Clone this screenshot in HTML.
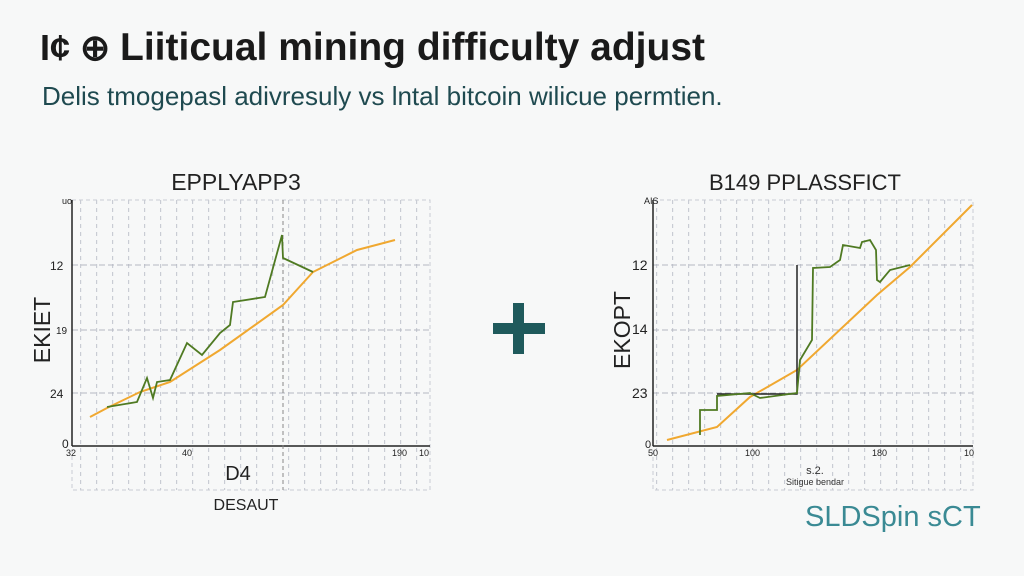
<!DOCTYPE html>
<html><head><meta charset="utf-8"><style>
body{margin:0;width:1024px;height:576px;background:#f7f8f8;overflow:hidden;font-family:"Liberation Sans",sans-serif;}
svg{position:absolute;left:0;top:0}
</style></head><body>
<svg width="1024" height="576" xmlns="http://www.w3.org/2000/svg" font-family="Liberation Sans, sans-serif">
<defs>
<pattern id="g" width="16" height="8" patternUnits="userSpaceOnUse">
<rect x="0" y="0" width="1.2" height="4" fill="#c9ccd4"/>
</pattern>
</defs>
<text x="40" y="60" font-size="36" font-weight="bold" fill="#1a1a1a">I¢ ⊕</text>
<text x="120" y="60" font-size="39" font-weight="bold" fill="#1a1a1a">Liiticual mining difficulty adjust</text>
<text x="42" y="105" font-size="26" fill="#1f4a50">Delis tmogepasl adivresuly vs lntal bitcoin wilicue permtien.</text>

<!-- left chart -->
<text x="236" y="190" font-size="23" text-anchor="middle" fill="#222">EPPLYAPP3</text>
<rect x="72" y="200" width="358" height="290" fill="url(#g)"/>
<rect x="72" y="200" width="358" height="290" fill="none" stroke="#c9ccd4" stroke-dasharray="4 3"/>
<g stroke="#b5b8c2" stroke-dasharray="6 3"><line x1="72" y1="265" x2="430" y2="265"/><line x1="72" y1="330" x2="430" y2="330"/><line x1="72" y1="393" x2="430" y2="393"/></g>
<line x1="72" y1="200" x2="72" y2="446" stroke="#222" stroke-width="1.5"/>
<line x1="72" y1="446" x2="430" y2="446" stroke="#222" stroke-width="1.5"/>
<line x1="283" y1="200" x2="283" y2="490" stroke="#888" stroke-width="1" stroke-dasharray="4 3"/>
<g font-size="12" fill="#222"><text x="62" y="204" font-size="9">uo</text><text x="50" y="270">12</text><text x="56" y="334" font-size="10">19</text><text x="50" y="398">24</text><text x="62" y="448">0</text>
<text x="66" y="456" font-size="9">32</text><text x="182" y="456" font-size="9">40</text><text x="392" y="456" font-size="9">190</text><text x="419" y="456" font-size="9">10</text></g>
<text x="238" y="480" font-size="20" text-anchor="middle" fill="#222">D4</text>
<text x="246" y="510" font-size="16" text-anchor="middle" fill="#222">DESAUT</text>
<text transform="translate(50,330) rotate(-90)" font-size="23" text-anchor="middle" fill="#222">EKIET</text>
<polyline fill="none" stroke="#f0a830" stroke-width="2" points="90,417 107,408 140,392 170,382 220,350 283,305 313,272 337,260 357,250 395,240"/>
<polyline fill="none" stroke="#4f7a22" stroke-width="1.8" points="107,407 137,402 147,378 153,398 157,382 170,380 187,343 202,355 220,333 230,325 233,302 265,297 282,235 283,258 313,272"/>

<!-- plus -->
<rect x="493" y="323" width="52" height="11" fill="#1f5a5c"/><rect x="513" y="303" width="11" height="51" fill="#1f5a5c"/>

<!-- right chart -->
<text x="805" y="190" font-size="22" text-anchor="middle" fill="#222">B149 PPLASSFICT</text>
<rect x="653" y="200" width="320" height="290" fill="url(#g)"/>
<rect x="653" y="200" width="320" height="290" fill="none" stroke="#c9ccd4" stroke-dasharray="4 3"/>
<g stroke="#b5b8c2" stroke-dasharray="6 3"><line x1="653" y1="265" x2="973" y2="265"/><line x1="653" y1="330" x2="973" y2="330"/><line x1="653" y1="393" x2="973" y2="393"/></g>
<line x1="653" y1="200" x2="653" y2="446" stroke="#222" stroke-width="1.5"/>
<line x1="653" y1="446" x2="973" y2="446" stroke="#222" stroke-width="1.5"/>
<g font-size="14" fill="#222"><text x="644" y="204" font-size="9">AIS</text><text x="632" y="270">12</text><text x="632" y="334">14</text><text x="632" y="398">23</text><text x="645" y="448" font-size="11">0</text>
<text x="648" y="456" font-size="9">50</text><text x="745" y="456" font-size="9">100</text><text x="872" y="456" font-size="9">180</text><text x="964" y="456" font-size="9">10</text></g>
<text x="815" y="474" font-size="11" text-anchor="middle" fill="#333">s.2.</text>
<text x="815" y="485" font-size="9" text-anchor="middle" fill="#333">Sitigue bendar</text>
<text transform="translate(630,330) rotate(-90)" font-size="23" text-anchor="middle" fill="#222">EKOPT</text>
<polyline fill="none" stroke="#f0a830" stroke-width="2" points="667,440 717,427 750,397 797,370 877,295 910,267 972,205"/>
<polyline fill="none" stroke="#222" stroke-width="1.5" points="717,394 797,394 797,265"/>
<polyline fill="none" stroke="#4f7a22" stroke-width="1.8" points="700,435 700,410 717,410 717,396 750,393 760,398 797,393 800,360 812,340 813,268 830,267 840,260 843,245 860,248 862,242 870,240 876,250 877,280 880,282 890,270 910,265"/>

<text x="805" y="526" font-size="29" fill="#3a8a94">SLDSpin sCT</text>
</svg>
</body></html>
